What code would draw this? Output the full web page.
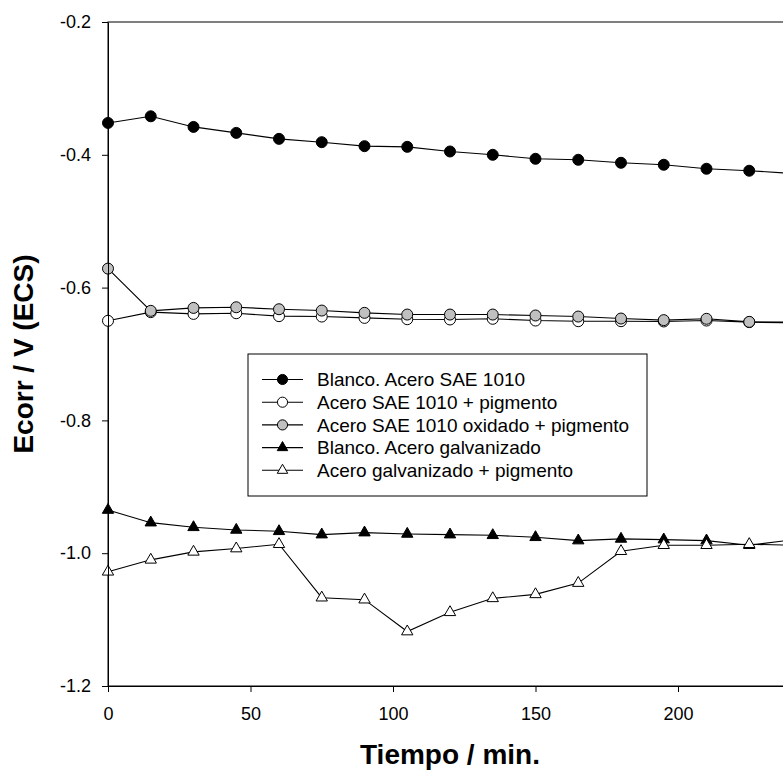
<!DOCTYPE html>
<html>
<head>
<meta charset="utf-8">
<script src="https://cdn.jsdelivr.net/npm/d3@7"></script>
<style>
  body { margin: 0; background: #fff; }
  text { font-family: 'Liberation Sans', Arial, sans-serif; }
</style>
</head>
<body>
<div id="chart"></div>
<script>
// Tiempo / min.
var times = [0, 15, 30, 45, 60, 75, 90, 105, 120, 135, 150, 165, 180, 195, 210, 225, 240]

// Ecorr / V (ECS), one array per serie
var blancoSae = [-0.352, -0.342, -0.358, -0.367, -0.376, -0.381, -0.387, -0.388, -0.395, -0.400, -0.406, -0.4075, -0.412, -0.415, -0.421, -0.424, -0.428]
var saePigmento = [-0.650, -0.637, -0.6396, -0.6386, -0.643, -0.6436, -0.6456, -0.6476, -0.648, -0.647, -0.6496, -0.6506, -0.6506, -0.651, -0.6496, -0.652, -0.653]
var saeOxidado = [-0.5714, -0.635, -0.6306, -0.6296, -0.6326, -0.6346, -0.638, -0.6406, -0.6406, -0.6406, -0.642, -0.6436, -0.6466, -0.649, -0.647, -0.6516, -0.652]
var blancoGalv = [-0.935, -0.954, -0.961, -0.965, -0.967, -0.972, -0.969, -0.971, -0.972, -0.973, -0.976, -0.981, -0.9785, -0.9795, -0.981, -0.988, -0.980]
var galvPigmento = [-1.028, -1.010, -0.998, -0.993, -0.9865, -1.067, -1.070, -1.118, -1.089, -1.068, -1.062, -1.045, -0.997, -0.988, -0.988, -0.9865, -0.988]

var seriesNames = [
  'Blanco. Acero SAE 1010',
  'Acero SAE 1010 + pigmento',
  'Acero SAE 1010 oxidado + pigmento',
  'Blanco. Acero galvanizado',
  'Acero galvanizado + pigmento'
]

var xTicks = [0, 50, 100, 150, 200]
var yTicks = [-0.2, -0.4, -0.6, -0.8, -1.0, -1.2]

var series = [
  { name: seriesNames[0], values: blancoSae, shape: d3.symbolCircle, fill: '#000' },
  { name: seriesNames[1], values: saePigmento, shape: d3.symbolCircle, fill: '#fff' },
  { name: seriesNames[2], values: saeOxidado, shape: d3.symbolCircle, fill: '#c0c0c0' },
  { name: seriesNames[3], values: blancoGalv, shape: d3.symbolTriangle, fill: '#000' },
  { name: seriesNames[4], values: galvPigmento, shape: d3.symbolTriangle, fill: '#fff' }
]

var width = 783
var height = 772
var margin = { top: 22, left: 108, bottom: 86, right: -9 }

var svg = d3
  .select('#chart')
  .append('svg')
  .attr('width', width)
  .attr('height', height)

var xPositionScale = d3
  .scaleLinear()
  .domain([0, 240])
  .range([margin.left, width - margin.right])
var yPositionScale = d3
  .scaleLinear()
  .domain([-1.2, -0.2])
  .range([height - margin.bottom, margin.top])

function symbolSize(shape) {
  return shape === d3.symbolCircle ? 95 : 56
}

// frame
svg
  .append('rect')
  .attr('x', xPositionScale(0))
  .attr('y', yPositionScale(-0.2))
  .attr('width', xPositionScale(240) - xPositionScale(0))
  .attr('height', yPositionScale(-1.2) - yPositionScale(-0.2))
  .attr('fill', 'none')
  .attr('stroke', '#000')
  .attr('stroke-width', 1)

var line = d3
  .line()
  .x((d, i) => xPositionScale(times[i]))
  .y(d => yPositionScale(d))

series.forEach(function(s) {
  var g = svg.append('g')
  g.append('path')
    .datum(s.values)
    .attr('d', line)
    .attr('fill', 'none')
    .attr('stroke', '#000')
    .attr('stroke-width', 1.1)

  g.selectAll('.pt')
    .data(s.values)
    .enter()
    .append('path')
    .attr('class', 'pt')
    .attr('d', d3.symbol().type(s.shape).size(symbolSize(s.shape)))
    .attr('transform', (d, i) => `translate(${xPositionScale(times[i])},${yPositionScale(d)})`)
    .attr('fill', s.fill)
    .attr('stroke', '#000')
    .attr('stroke-width', 1)
})

// axes
var xAxis = d3
  .axisBottom(xPositionScale)
  .tickValues(xTicks)
  .tickSize(6)
  .tickPadding(15)
  .tickSizeOuter(0)
var yAxis = d3
  .axisLeft(yPositionScale)
  .tickValues(yTicks)
  .tickFormat(d => d.toFixed(1))
  .tickSize(6)
  .tickPadding(11)
  .tickSizeOuter(0)

svg
  .append('g')
  .attr('class', 'axis x-axis')
  .attr('transform', `translate(0, ${yPositionScale(-1.2)})`)
  .call(xAxis)
svg
  .append('g')
  .attr('class', 'axis y-axis')
  .attr('transform', `translate(${xPositionScale(0)}, 0)`)
  .call(yAxis)

svg.selectAll('.axis text')
  .attr('font-size', 18)
  .attr('font-family', "'Liberation Sans', Arial, sans-serif")
  .attr('fill', '#000')
svg.selectAll('.axis line').attr('stroke', '#000')

// axis titles
svg
  .append('text')
  .text('Tiempo / min.')
  .attr('x', (xPositionScale(0) + xPositionScale(240)) / 2)
  .attr('y', 764)
  .attr('text-anchor', 'middle')
  .attr('font-size', 28)
  .attr('font-weight', 'bold')

svg
  .append('text')
  .text('Ecorr / V (ECS)')
  .attr('transform', `translate(33, ${(yPositionScale(-0.2) + yPositionScale(-1.2)) / 2}) rotate(-90)`)
  .attr('text-anchor', 'middle')
  .attr('font-size', 28)
  .attr('font-weight', 'bold')

// legend
var legend = svg.append('g').attr('transform', 'translate(248, 354)')
legend
  .append('rect')
  .attr('width', 399)
  .attr('height', 142)
  .attr('fill', '#fff')
  .attr('stroke', '#000')
  .attr('stroke-width', 1)

var items = legend
  .selectAll('.item')
  .data(series)
  .enter()
  .append('g')
  .attr('class', 'item')
  .attr('transform', (d, i) => `translate(0, ${25.5 + i * 22.7})`)

items
  .append('line')
  .attr('x1', 14)
  .attr('x2', 55)
  .attr('stroke', '#000')
  .attr('stroke-width', 1.1)
items
  .append('path')
  .attr('d', d => d3.symbol().type(d.shape).size(symbolSize(d.shape) * 0.85)())
  .attr('transform', 'translate(34.5, 0)')
  .attr('fill', d => d.fill)
  .attr('stroke', '#000')
items
  .append('text')
  .text(d => d.name)
  .attr('x', 69)
  .attr('y', 6.8)
  .attr('font-size', 19)
</script>
</body>
</html>
